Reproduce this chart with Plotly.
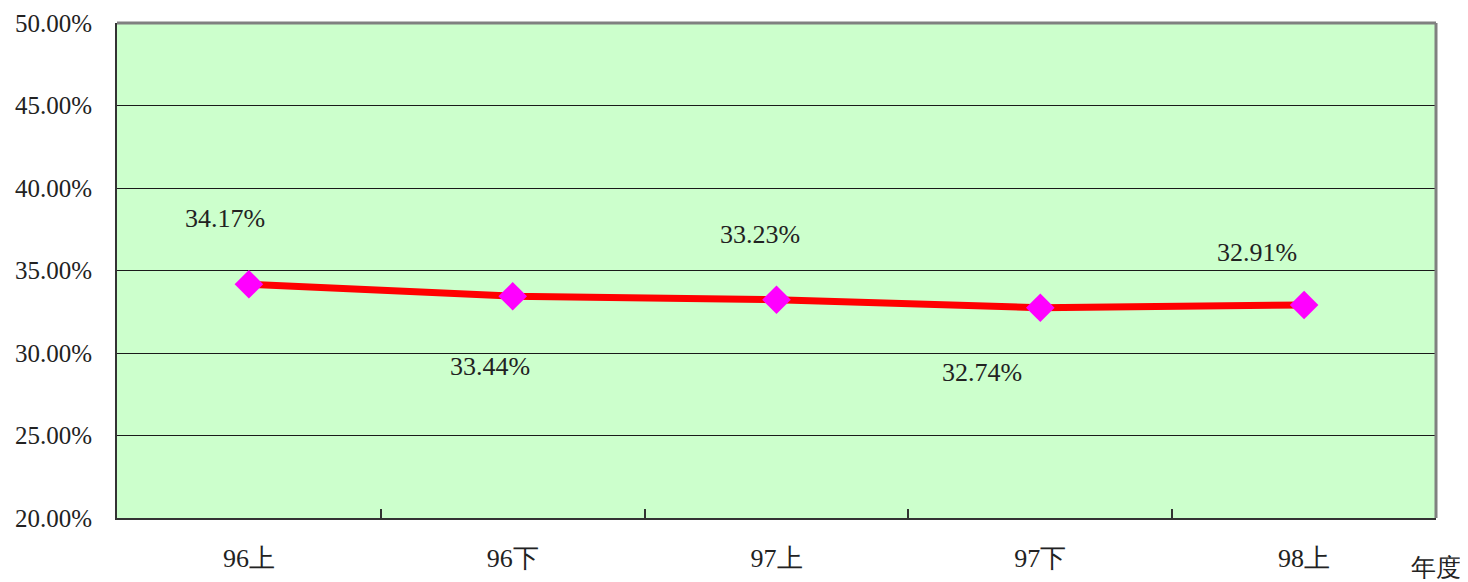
import plotly.graph_objects as go

categories = ["96上", "96下", "97上", "97下", "98上"]
values = [34.17, 33.44, 33.23, 32.74, 32.91]
y_ticks = [20, 25, 30, 35, 40, 45, 50]
y_tick_labels = [f"{v:.2f}%" for v in y_ticks]

# label offsets (style)
label_dx = [-24, -23, -17, -58, -47]
label_dy = [66, -70, 65, -65, 52]

FONT = "Liberation Serif"
TXT = "#222222"

# page body has an 8px margin; compensate so the plot area lands where intended
W, H = 1460, 574
ML, MR, MT, MB = 109, 32, 15, 64

x = list(range(len(categories)))
fig = go.Figure()
fig.add_trace(go.Scatter(
    x=x, y=values, mode="lines+markers",
    line=dict(color="#FF0000", width=7),
    marker=dict(symbol="diamond", size=22, color="#FF00FF", line=dict(width=0)),
    hoverinfo="skip", showlegend=False,
))

for xi, v, dx, dy in zip(x, values, label_dx, label_dy):
    fig.add_annotation(x=xi, y=v, xref="x", yref="y", text=f"{v:.2f}%",
                       showarrow=False, xshift=dx, yshift=dy,
                       xanchor="center", yanchor="middle",
                       font=dict(family=FONT, size=26, color=TXT))

pw = W - ML - MR
ph = H - MT - MB
fig.add_annotation(x=(1436 - 8 - ML) / pw, y=-49 / ph,
                   xref="paper", yref="paper", text="年度",
                   xanchor="center", yanchor="middle",
                   showarrow=False, font=dict(family=FONT, size=25, color=TXT))

# gray top/right border
fig.add_shape(type="line", xref="paper", yref="paper", x0=0, x1=1, y0=1, y1=1,
              line=dict(color="#808080", width=3))
fig.add_shape(type="line", xref="paper", yref="paper", x0=1, x1=1, y0=0, y1=1,
              line=dict(color="#808080", width=3))

fig.update_layout(
    width=W, height=H,
    margin=dict(l=ML, r=MR, t=MT, b=MB, autoexpand=False),
    paper_bgcolor="white", plot_bgcolor="#CCFFCC",
    font=dict(family=FONT, size=26, color=TXT),
    xaxis=dict(
        range=[-0.5, len(categories) - 0.5], automargin=False,
        tickmode="array", tickvals=x, ticktext=categories,
        ticks="", showgrid=False, zeroline=False,
        showline=True, linecolor="#333333", linewidth=2,
        ticklabelstandoff=16,
        minor=dict(tickmode="array", tickvals=[i + 0.5 for i in x[:-1]],
                   ticks="inside", ticklen=9, tickwidth=2, tickcolor="#333333",
                   showgrid=False),
    ),
    yaxis=dict(
        range=[20, 50], automargin=False,
        tickmode="array", tickvals=y_ticks, ticktext=y_tick_labels,
        tickfont=dict(family=FONT, size=25, color=TXT),
        showgrid=True, gridcolor="#1a1a1a", gridwidth=1, zeroline=False,
        showline=True, linecolor="#333333", linewidth=2, ticks="",
        ticklabelstandoff=18,
    ),
)

fig.write_html("out.html")
